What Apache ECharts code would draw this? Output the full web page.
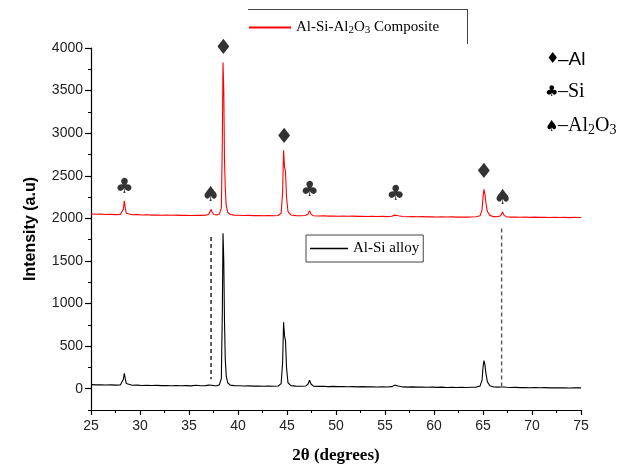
<!DOCTYPE html>
<html>
<head>
<meta charset="utf-8">
<script src="https://cdn.jsdelivr.net/npm/echarts@6/dist/echarts.min.js"></script>
<style>html,body{margin:0;padding:0;background:#fff}#c{width:644px;height:470px}</style>
</head>
<body>
<div id="c"></div>
<script>
// ---- data ----
var xTicks = [25, 30, 35, 40, 45, 50, 55, 60, 65, 70, 75];
var yTicks = [0, 500, 1000, 1500, 2000, 2500, 3000, 3500, 4000];

var compositeData = [
[25,2052],[25.5,2048],[26,2050],[26.5,2046],[27,2047],[27.5,2044],[28,2046],[28.2,2055],[28.3,2110],[28.4,2205],[28.5,2120],[28.6,2060],[28.8,2045],
[29.2,2042],[29.7,2044],[30.2,2040],[30.7,2042],[31.2,2038],[31.7,2040],[32.2,2037],[32.7,2039],[33.2,2036],[33.7,2038],[34.2,2035],[34.7,2037],
[35.2,2034],[35.7,2036],[36.2,2035],[36.7,2038],[37.0,2045],[37.15,2080],[37.25,2105],[37.35,2075],[37.55,2045],[37.8,2040],[38.1,2050],[38.3,2120],
[38.4,2900],[38.47,3830],[38.55,3500],[38.62,2700],[38.7,2350],[38.8,2150],[38.95,2070],[39.2,2045],[39.6,2038],[40.1,2036],[40.6,2033],[41.1,2035],
[41.6,2032],[42.1,2034],[42.6,2031],[43.1,2033],[43.6,2030],[44.1,2034],[44.4,2060],[44.55,2300],[44.65,2800],[44.75,2600],[44.85,2550],[44.95,2250],
[45.1,2080],[45.4,2040],[45.9,2032],[46.4,2030],[46.9,2033],[47.15,2050],[47.3,2090],[47.45,2050],[47.7,2030],[48.2,2028],[48.7,2030],[49.2,2026],
[49.7,2028],[50.2,2025],[50.7,2027],[51.2,2024],[51.7,2026],[52.2,2023],[52.7,2025],[53.2,2022],[53.7,2024],[54.2,2021],[54.7,2023],[55.2,2020],
[55.7,2024],[56.0,2038],[56.15,2046],[56.35,2030],[56.8,2021],[57.3,2019],[57.8,2021],[58.3,2018],[58.8,2020],[59.3,2017],[59.8,2019],[60.3,2016],
[60.8,2018],[61.3,2015],[61.8,2017],[62.3,2014],[62.8,2016],[63.3,2014],[63.8,2016],[64.3,2018],[64.7,2030],[64.9,2100],[65.0,2250],[65.1,2340],
[65.2,2280],[65.3,2180],[65.45,2080],[65.7,2035],[66.1,2020],[66.5,2018],[66.8,2030],[67.0,2075],[67.15,2035],[67.4,2018],[67.8,2014],[68.3,2016],
[68.8,2013],[69.3,2015],[69.8,2012],[70.3,2014],[70.8,2011],[71.3,2013],[71.8,2010],[72.3,2012],[72.8,2010],[73.3,2012],[73.8,2009],[74.3,2011],
[74.8,2010],[75,2010]
];

var alloyData = [
[25,48],[25.5,45],[26,47],[26.5,43],[27,45],[27.5,42],[28,44],[28.2,55],[28.3,110],[28.4,180],[28.5,115],[28.6,60],[28.8,44],
[29.2,40],[29.7,42],[30.2,38],[30.7,40],[31.2,37],[31.7,39],[32.2,36],[32.7,38],[33.2,35],[33.7,37],[34.2,34],[34.7,36],
[35.2,33],[35.7,40],[36.2,34],[36.7,36],[37.0,42],[37.15,46],[37.3,40],[37.55,36],[37.8,35],[38.1,45],[38.3,120],
[38.4,900],[38.47,1825],[38.55,1500],[38.62,800],[38.7,350],[38.8,150],[38.95,70],[39.2,42],[39.6,36],[40.1,34],[40.6,31],[41.1,33],
[41.6,30],[42.1,32],[42.6,29],[43.1,31],[43.6,28],[44.1,32],[44.4,60],[44.55,300],[44.65,780],[44.75,620],[44.85,560],[44.95,250],
[45.1,70],[45.4,36],[45.9,30],[46.4,28],[46.9,31],[47.15,55],[47.3,100],[47.45,55],[47.7,30],[48.2,27],[48.7,29],[49.2,25],
[49.7,27],[50.2,24],[50.7,26],[51.2,23],[51.7,25],[52.2,22],[52.7,24],[53.2,21],[53.7,23],[54.2,20],[54.7,22],[55.2,20],
[55.7,24],[56.0,42],[56.15,55],[56.35,32],[56.8,21],[57.3,19],[57.8,21],[58.3,18],[58.8,20],[59.3,17],[59.8,19],[60.3,16],
[60.8,18],[61.3,15],[61.8,17],[62.3,15],[62.8,17],[63.3,15],[63.8,17],[64.3,19],[64.7,30],[64.9,100],[65.0,250],[65.1,330],
[65.2,280],[65.3,180],[65.45,80],[65.7,35],[66.1,20],[66.5,18],[66.8,20],[67.0,24],[67.15,20],[67.4,17],[67.8,14],[68.3,16],
[68.8,13],[69.3,15],[69.8,12],[70.3,14],[70.8,11],[71.3,13],[71.8,10],[72.3,12],[72.8,10],[73.3,12],[73.8,9],[74.3,11],
[74.8,10],[75,10]
];

var dashLeft = [[37.25, 1780], [37.25, 110]];
var dashRight = [[66.9, 1880], [66.9, 30]];

var markerX = [28.4, 37.2, 38.5, 44.7, 47.3, 56.1, 65.1, 67.0];
var markerY = [2365, 2270, 3990, 2950, 2330, 2280, 2540, 2235];
var markerGlyph = ['\u2663', '\u2660', '\u2666', '\u2666', '\u2663', '\u2663', '\u2666', '\u2660'];

// ---- chart ----
var chart = echarts.init(document.getElementById('c'), null, {renderer: 'canvas'});
var markerData = markerX.map(function (x, i) {
  return {value: [x, markerY[i]], label: {formatter: markerGlyph[i]}};
});
var subRich = {
  sub: {fontFamily: 'Liberation Serif', fontSize: 11, color: '#000', verticalAlign: 'bottom', padding: [6, 0, 0, 0]},
  n: {fontFamily: 'Liberation Serif', fontSize: 15, color: '#000'}
};

var option = {
  animation: false,
  grid: {left: 91, right: 63, top: 48, bottom: 60, containLabel: false},
  legend: [
    {
      data: ['Al-Si-Al2O3 Composite'], left: 249, top: 20, itemWidth: 42, itemHeight: 2, itemGap: 4,
      icon: 'rect', padding: 0,
      formatter: function () { return '{n|Al-Si-Al}{sub|2}{n|O}{sub|3}{n| Composite}'; },
      textStyle: {fontFamily: 'Liberation Serif', fontSize: 15, color: '#000', rich: subRich}
    },
    {
      data: ['Al-Si alloy'], left: 306, top: 235, itemWidth: 38, itemHeight: 1.5, itemGap: 6,
      icon: 'rect', padding: [6, 4, 6, 4], borderColor: '#444', borderWidth: 1,
      textStyle: {fontFamily: 'Liberation Serif', fontSize: 15, color: '#000'}
    }
  ],
  xAxis: {
    type: 'value', min: 25, max: 75, interval: 5,
    name: '2\u03b8 (degrees)', nameLocation: 'middle', nameGap: 37,
    nameTextStyle: {fontFamily: 'Liberation Serif', fontWeight: 'bold', fontSize: 17, color: '#000'},
    axisLine: {show: true, onZero: false, lineStyle: {color: '#000', width: 1.2}},
    axisTick: {show: true, length: 5, lineStyle: {color: '#000', width: 1.2}},
    minorTick: {show: true, splitNumber: 2, length: 3, lineStyle: {color: '#000', width: 1}},
    axisLabel: {fontFamily: 'Liberation Sans', fontSize: 14, color: '#222', margin: 9},
    splitLine: {show: false}
  },
  yAxis: [
    {
      type: 'value', min: -250, max: 4000, position: 'left',
      name: 'Intensity (a.u)', nameLocation: 'middle', nameGap: 52,
      nameTextStyle: {fontFamily: 'Liberation Sans', fontWeight: 'bold', fontSize: 16, color: '#000'},
      axisLine: {show: true, onZero: false, lineStyle: {color: '#000', width: 1.2}},
      axisTick: {show: true, length: 6, customValues: yTicks, lineStyle: {color: '#000', width: 1.2}},
      axisLabel: {show: true, customValues: yTicks, fontFamily: 'Liberation Sans', fontSize: 14, color: '#222', margin: 8,
        formatter: function (v) { return String(v); }},
      splitLine: {show: false}
    },
    {
      type: 'value', min: -250, max: 4000, interval: 250, position: 'left', offset: 0,
      axisLine: {show: false},
      axisTick: {show: true, length: 3, lineStyle: {color: '#000', width: 1}},
      axisLabel: {show: false},
      splitLine: {show: false}
    }
  ],
  series: [
    {
      name: 'Al-Si-Al2O3 Composite', type: 'line', data: compositeData, symbol: 'none',
      lineStyle: {color: '#ff0000', width: 1.1}, itemStyle: {color: '#ff0000'}, silent: true
    },
    {
      name: 'Al-Si alloy', type: 'line', data: alloyData, symbol: 'none',
      lineStyle: {color: '#000', width: 1.1}, itemStyle: {color: '#000'}, silent: true
    },
    {
      type: 'line', data: dashLeft, symbol: 'none', silent: true,
      lineStyle: {color: '#333', width: 1.6, type: [4, 3]}
    },
    {
      type: 'line', data: dashRight, symbol: 'none', silent: true,
      lineStyle: {color: '#555', width: 1.4, type: [4, 3]}
    },
    {
      type: 'scatter', data: markerData, symbolSize: 1, silent: true,
      itemStyle: {color: 'rgba(0,0,0,0)'},
      label: {show: true, position: 'inside', fontFamily: 'DejaVu Sans', fontSize: 21, color: '#000'}
    }
  ],
  graphic: [
    {type: 'line', shape: {x1: 248, y1: 9.5, x2: 467, y2: 9.5}, style: {stroke: '#444', lineWidth: 1}},
    {type: 'line', shape: {x1: 467.5, y1: 9, x2: 467.5, y2: 44}, style: {stroke: '#444', lineWidth: 1}},
    {type: 'text', left: 546, top: 52, style: {text: '\u2666', font: '15px DejaVu Sans', fill: '#000'}},
    {type: 'text', left: 558, top: 50, style: {text: '\u2013Al', font: '19px Liberation Sans', fill: '#000'}},
    {type: 'text', left: 545, top: 85, style: {text: '\u2663', font: '15px DejaVu Sans', fill: '#000'}},
    {type: 'text', left: 558, top: 82, style: {text: '\u2013Si', font: '20px Liberation Serif', fill: '#000'}},
    {type: 'text', left: 545, top: 120, style: {text: '\u2660', font: '15px DejaVu Sans', fill: '#000'}},
    {type: 'text', left: 558, top: 116, style: {
      text: '{a|\u2013Al}{s|2}{a|O}{s|3}', fill: '#000',
      rich: {
        a: {fontFamily: 'Liberation Serif', fontSize: 20, fill: '#000'},
        s: {fontFamily: 'Liberation Serif', fontSize: 14, fill: '#000', padding: [8, 0, 0, 0]}
      }
    }}
  ]
};
chart.setOption(option);
</script>
</body>
</html>
